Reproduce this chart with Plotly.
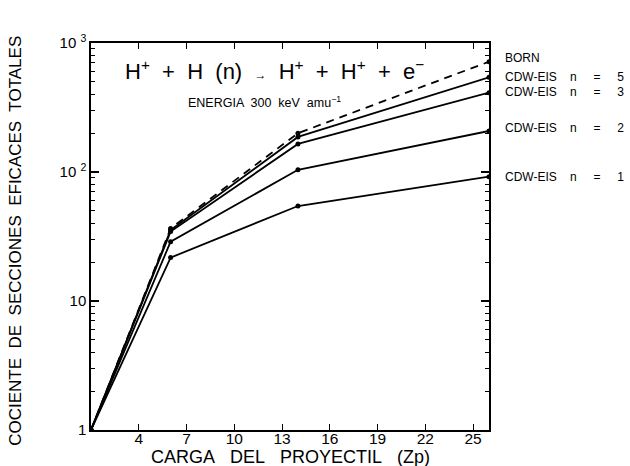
import math
import plotly.graph_objects as go

zp = [1, 6, 14, 26]
born = [1, 36.5, 200, 716]
cdw_n5 = [1, 35.5, 187, 542]
cdw_n3 = [1, 34.5, 165, 412]
cdw_n2 = [1, 28.8, 104, 208]
cdw_n1 = [1, 21.7, 54.5, 92]

NB = "\u00a0"
series = [
    ("BORN", born, "dash"),
    ("CDW-EIS" + NB * 4 + "n" + NB * 5 + "=" + NB * 5 + "5", cdw_n5, "solid"),
    ("CDW-EIS" + NB * 4 + "n" + NB * 5 + "=" + NB * 5 + "3", cdw_n3, "solid"),
    ("CDW-EIS" + NB * 4 + "n" + NB * 5 + "=" + NB * 5 + "2", cdw_n2, "solid"),
    ("CDW-EIS" + NB * 4 + "n" + NB * 5 + "=" + NB * 5 + "1", cdw_n1, "solid"),
]
label_y = [761, 548, 415, 218, 92]

x_ticks = [4, 7, 10, 13, 16, 19, 22, 25]
y_ticks = [1, 10, 100, 1000]
y_ticktext = ["1", "10", "10 <sup>2</sup>", "10 <sup>3</sup>"]
y_minor = [m * 10 ** e for e in range(0, 3) for m in range(2, 10)]

FONT = "Liberation Sans, Arial, sans-serif"

fig = go.Figure()
for name, vals, dash in series:
    fig.add_trace(go.Scatter(
        x=zp, y=vals, mode="lines+markers", name=name,
        line=dict(color="black", width=1.8, dash="8px,6px" if dash == "dash" else "solid"),
        marker=dict(color="black", size=5),
        showlegend=False,
    ))

for (name, _, _), ly in zip(series, label_y):
    fig.add_annotation(x=1.035, xref="paper", y=math.log10(ly), yref="y", text=name,
                       showarrow=False, xanchor="left", yanchor="middle",
                       font=dict(family=FONT, size=12, color="black"))

fig.add_annotation(x=0.08, xref="paper", y=0.93, yref="paper",
                   text="H<sup>+</sup>  +  H  (n)  <span style='font-size:12px'>\u2192</span>  H<sup>+</sup>  +  H<sup>+</sup>  +  e<sup>\u2212</sup>",
                   showarrow=False, xanchor="left", yanchor="middle",
                   font=dict(family=FONT, size=22, color="black"))
fig.add_annotation(x=0.239, xref="paper", y=0.848, yref="paper",
                   text="ENERGIA  300  keV  amu<sup>\u22121</sup>",
                   showarrow=False, xanchor="left", yanchor="middle",
                   font=dict(family=FONT, size=12.5, color="black"))

# axis titles as annotations
fig.add_annotation(x=0.5, xref="paper", y=-0.07, yref="paper",
                   text="CARGA" + NB * 3 + "DEL" + NB * 3 + "PROYECTIL" + NB * 3 + "(Zp)",
                   showarrow=False, xanchor="center", yanchor="middle",
                   font=dict(family=FONT, size=18, color="black"))
fig.add_annotation(x=-0.19, xref="paper", y=0.49, yref="paper",
                   text="COCIENTE  DE  SECCIONES  EFICACES  TOTALES", textangle=-90,
                   showarrow=False, xanchor="center", yanchor="middle",
                   font=dict(family=FONT, size=17, color="black"))

fig.update_layout(
    width=630, height=466,
    margin=dict(l=91, r=141, t=43, b=36, autoexpand=False),
    paper_bgcolor="white", plot_bgcolor="white",
    font=dict(family=FONT, color="black"),
)
fig.update_xaxes(
    range=[1, 26], tickmode="array", tickvals=x_ticks,
    ticks="inside", ticklen=6, tickwidth=1.2, tickcolor="black",
    showline=True, linecolor="black", linewidth=1.5, mirror="ticks",
    showgrid=False, zeroline=False, automargin=False,
    tickfont=dict(family=FONT, size=15.5), ticklabelstandoff=-6,
)
fig.update_yaxes(
    type="log", range=[0, 3], tickmode="array", tickvals=y_ticks, ticktext=y_ticktext,
    ticks="inside", ticklen=8, tickwidth=1.5, tickcolor="black",
    minor=dict(tickmode="array", tickvals=y_minor, ticks="inside", ticklen=4,
               tickwidth=1, tickcolor="black", showgrid=False),
    showline=True, linecolor="black", linewidth=1.5, mirror="ticks",
    showgrid=False, zeroline=False, automargin=False,
    tickfont=dict(family=FONT, size=15),
)

fig.write_html("out.html", config={"displayModeBar": False},
               post_script="document.body.style.margin='0';document.body.style.overflow='hidden';")
